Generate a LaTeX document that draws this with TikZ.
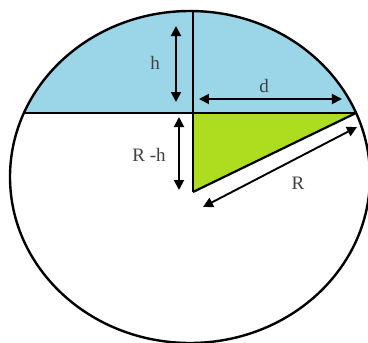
\documentclass[tikz,border=0pt]{standalone}
\usepackage{fontspec}
\setmainfont{Liberation Serif}
\usetikzlibrary{arrows.meta}
\definecolor{SegBlue}{HTML}{9AD5E8}
\definecolor{TriGreen}{HTML}{AEDC1E}
\tikzset{
  rim/.style={draw=black,line width=2.4pt},
  cut/.style={draw=black,line width=2.2pt},
  dim/.style={{Triangle[length=10pt,width=10pt]}-{Triangle[length=10pt,width=10pt]},line width=1.9pt,draw=black},
  lbl/.style={font=\fontsize{19}{22}\selectfont,text=black!75,inner sep=1pt}
}
\begin{document}
\begin{tikzpicture}[x=1pt,y=-1pt]
\useasboundingbox (0,0) rectangle (368,343);
\clip (0,0) rectangle (368,343);
% key points
\coordinate (c) at (190,177);
\coordinate (top) at (193,11);
\coordinate (chl) at (24,113);
\coordinate (chr) at (356,113);
\coordinate (mid) at (193,113);
\coordinate (o) at (193,192);
% blue segment
\begin{scope}
  \clip (c) ellipse [x radius=180, y radius=166];
  \fill[SegBlue] (0,0) rectangle (368,113);
\end{scope}
% green triangle
\fill[TriGreen] (mid) -- (chr) -- (o) -- cycle;
\draw[cut] (o) -- (chr);
\draw[cut] (chl) -- (chr);
\draw[cut] (top) -- (o);
\draw[rim] (c) ellipse [x radius=180, y radius=166];
% dimension arrows
\coordinate (h1) at (176,26);
\coordinate (h2) at (176,102);
\coordinate (d1) at (199,99);
\coordinate (d2) at (342,99);
\coordinate (rh1) at (179,117);
\coordinate (rh2) at (179,190);
\coordinate (r1) at (203,207);
\coordinate (r2) at (357,127);
\draw[dim] (h1) -- (h2);
\draw[dim] (d1) -- (d2);
\draw[dim] (rh1) -- (rh2);
\draw[dim] (r1) -- (r2);
\node[lbl] (hlab) at (155,63) {h};
\node[lbl] (dlab) at (264,86) {d};
\node[lbl] (rhlab) at (149,155) {R -h};
\node[lbl] (rlab) at (298,183) {R};
\end{tikzpicture}
\end{document}
